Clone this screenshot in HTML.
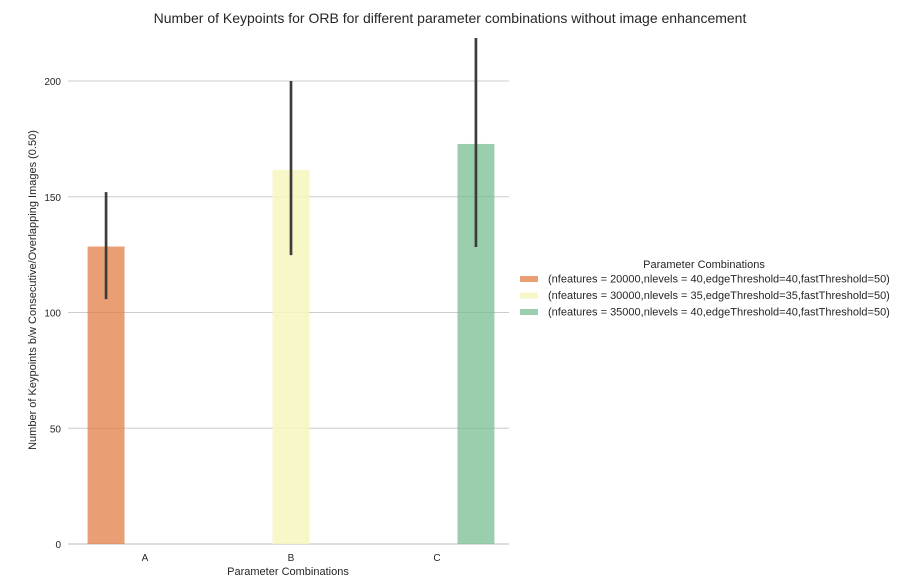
<!DOCTYPE html>
<html><head><meta charset="utf-8"><style>
body{margin:0;background:#fff;font-family:"Liberation Sans",sans-serif;}
svg text{font-family:"Liberation Sans",sans-serif;fill:#262626;}
</style></head><body>
<svg width="900" height="576" id="chart">
<text x="450" y="23" text-anchor="middle" font-size="14">Number of Keypoints for ORB for different parameter combinations without image enhancement</text>
<g id="grid"></g><g id="bars"></g><g id="errs"></g><g id="ticks"></g>
<text x="288" y="575" text-anchor="middle" font-size="11">Parameter Combinations</text>
<text transform="translate(36,290) rotate(-90)" text-anchor="middle" font-size="11">Number of Keypoints b/w Consecutive/Overlapping Images (0.50)</text>
<g id="legend">
<text x="704" y="268" text-anchor="middle" font-size="11">Parameter Combinations</text>
</g>
</svg>
<script>
const categories=["A","B","C"];
const values=[128.5,161.6,172.8];
const errLow=[105.8,124.8,128.3];
const errHigh=[152,200,218.6];
const yTicks=[0,50,100,150,200];
const labels=["(nfeatures = 20000,nlevels = 40,edgeThreshold=40,fastThreshold=50)","(nfeatures = 30000,nlevels = 35,edgeThreshold=35,fastThreshold=50)","(nfeatures = 35000,nlevels = 40,edgeThreshold=40,fastThreshold=50)"];
const colors=["rgba(226,125,70,0.75)","rgba(246,246,190,0.85)","rgba(120,190,145,0.75)"];
const NS="http://www.w3.org/2000/svg";
const x0=68,x1=509,catW=146,y=v=>544-v*2.315;
const cx=i=>145+i*catW;
function mk(t,a,p){const e=document.createElementNS(NS,t);for(const k in a)e.setAttribute(k,a[k]);document.getElementById(p).appendChild(e);return e;}
yTicks.forEach(t=>{
 const l=mk('line',{x1:x0,x2:x1,y1:y(t),y2:y(t),stroke:t===0?'#bbb':'#ccc','stroke-width':1},'grid');
 
 
 const tx=mk('text',{x:61,y:y(t)+4,'text-anchor':'end','font-size':10},'ticks');tx.textContent=t;
 
 
});
const bw=catW*0.8/3;
categories.forEach((c,i)=>{
 const bc=cx(i)+(i-1)*bw;
 const r=mk('rect',{x:bc-bw/2+1,y:y(values[i]),width:bw-2,height:y(0)-y(values[i]),fill:colors[i]},'bars');
 
 
 const e=mk('line',{x1:bc,x2:bc,y1:y(errLow[i]),y2:y(errHigh[i]),stroke:'#3d3d3d','stroke-width':2.7},'errs');
 
 
 const tx=mk('text',{x:cx(i),y:561,'text-anchor':'middle','font-size':10},'ticks');tx.textContent=c;
 
 
 const ry=279+i*16.5;
 const p=mk('rect',{x:520,y:ry-3,width:18,height:6,fill:colors[i]},'legend');
 
 
 const lt=mk('text',{x:548,y:ry+3.5,'font-size':11},'legend');lt.textContent=labels[i];
 
 
});
</script>
</body></html>
